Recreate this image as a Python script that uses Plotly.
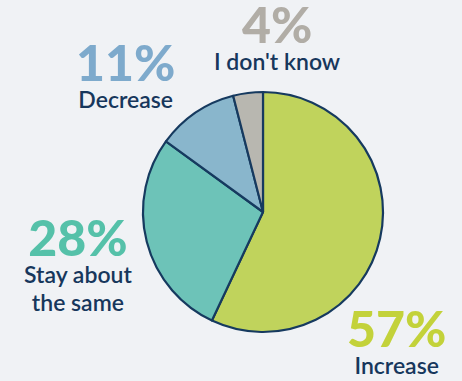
import plotly.graph_objects as go

categories = ["Increase", "Stay about the same", "Decrease", "I don't know"]
values = [57, 28, 11, 4]
pct_labels = ["57%", "28%", "11%", "4%"]
text_labels = ["Increase", "Stay about<br>the same", "Decrease", "I don't know"]
slice_colors = ["#c0d35c", "#6dc3b8", "#89b6cc", "#b8b7b0"]
pct_colors = ["#c3d23a", "#55c1a9", "#7eaacc", "#b1ada6"]

W, H = 462, 381
cx, cy, r = 263, 212, 120

fig = go.Figure(go.Pie(
    labels=categories,
    values=values,
    sort=False,
    direction="clockwise",
    rotation=0,
    textinfo="none",
    hoverinfo="label+percent",
    marker=dict(colors=slice_colors, line=dict(color="#163a5f", width=2.2)),
    domain=dict(x=[(cx - r) / W, (cx + r) / W], y=[(H - cy - r) / H, (H - cy + r) / H]),
    showlegend=False,
))

navy = "#17375c"
PS, LS = 50, 23

# (x center, y of box bottom) in pixels from top-left
ann_pos = [(396, 381), (78, 318), (125, 115), (277, 77)]

for i in range(len(categories)):
    px, py = ann_pos[i]
    lab = "<br>".join(
        f"<span style='font-size:{LS}px'>{part}</span>" for part in text_labels[i].split("<br>")
    )
    txt = (f"<span style='font-size:{PS}px;font-weight:900;color:{pct_colors[i]}'>"
           f"{pct_labels[i]}</span><br>{lab}")
    fig.add_annotation(x=px / W, y=1 - py / H, xref="paper", yref="paper",
                       text=txt, showarrow=False, align="center",
                       xanchor="center", yanchor="bottom",
                       font=dict(family="Lato", size=21, color=navy, weight=600))

fig.update_layout(
    width=W, height=H,
    margin=dict(l=0, r=0, t=0, b=0),
    paper_bgcolor="#f0f2f5",
    plot_bgcolor="#f0f2f5",
)

fig.write_html("out.html", config={"displayModeBar": False},
               post_script="document.body.style.margin='0px';document.body.style.padding='0px';")
